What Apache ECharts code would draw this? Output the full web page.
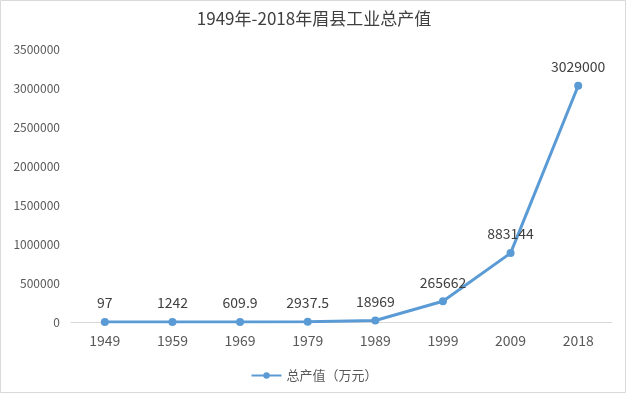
<!DOCTYPE html>
<html><head><meta charset="utf-8">
<script src="https://cdn.jsdelivr.net/npm/echarts@6/dist/echarts.min.js"></script>
<style>html,body{margin:0;padding:0;background:#fff}#c{width:628px;height:396px}</style>
</head><body><div id="c"></div>
<script>
const titleText = '1949年-2018年眉县工业总产值';
const seriesName = '总产值（万元）';
const years = ['1949','1959','1969','1979','1989','1999','2009','2018'];
const values = [97, 1242, 609.9, 2937.5, 18969, 265662, 883144, 3029000];
const yMax = 3500000;
const yInterval = 500000;

const chart = echarts.init(document.getElementById('c'));
const font = '"Noto Sans CJK SC", "Noto Sans", sans-serif';
chart.setOption({
  animation: false,
  textStyle: {fontFamily: font},
  title: {text: titleText, left: 'center', top: 5,
    textStyle: {fontSize: 17, fontWeight: 'normal', color: '#404040', fontFamily: font}},
  grid: {left: 71, right: 16, top: 49, bottom: 74},
  legend: {bottom: 9, left: 'center', itemWidth: 30, itemHeight: 8,
    textStyle: {fontSize: 13, color: '#595959', fontFamily: font},
    data: [seriesName]},
  xAxis: {type: 'category', data: years, boundaryGap: true,
    axisLine: {lineStyle: {color: '#d9d9d9', width: 1}},
    axisTick: {show: false},
    axisLabel: {color: '#595959', fontSize: 14, margin: 12, fontFamily: font}},
  yAxis: {type: 'value', min: 0, max: yMax, interval: yInterval,
    splitLine: {show: false}, axisLine: {show: false}, axisTick: {show: false},
    axisLabel: {color: '#595959', fontSize: 12, margin: 11, formatter: v => String(v)}},
  series: [{name: seriesName, type: 'line', data: values,
    symbol: 'circle', symbolSize: 8,
    lineStyle: {color: '#5B9BD5', width: 3},
    itemStyle: {color: '#5B9BD5'},
    label: {show: true, position: 'top', distance: 8, color: '#404040', fontSize: 14}}],
  graphic: [{type: 'rect', shape: {x: 0.5, y: 0.5, width: 625, height: 392},
    style: {fill: 'none', stroke: '#d9d9d9', lineWidth: 1}, silent: true}]
});
</script></body></html>
